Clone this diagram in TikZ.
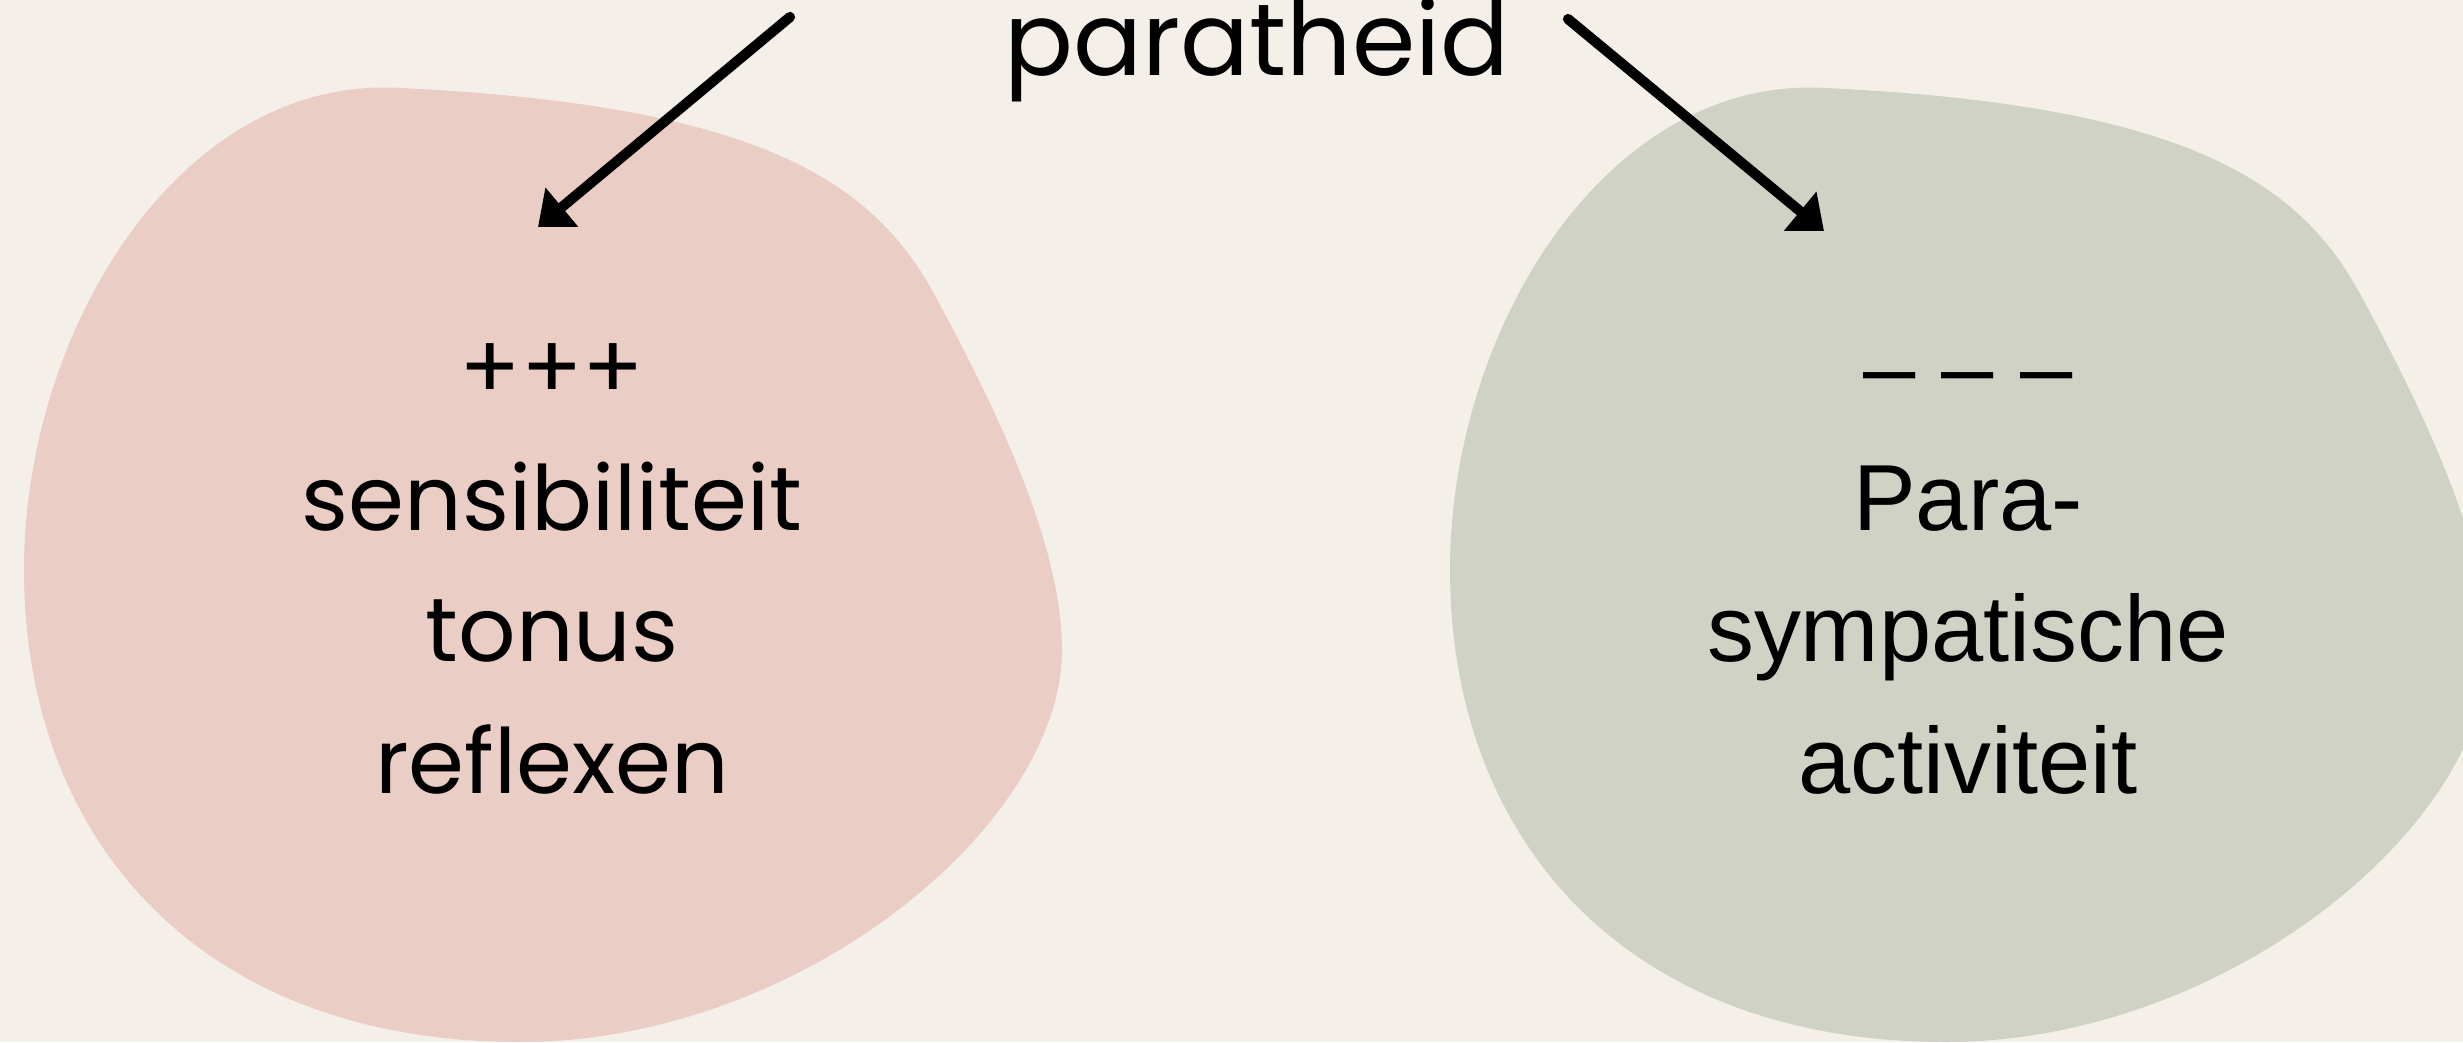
\documentclass[tikz,border=0pt]{standalone}
\usepackage{fontspec}
\usetikzlibrary{arrows.meta}
\newfontfamily\popfont{Poppins}
\newfontfamily\arialfont{Liberation Sans}
\definecolor{bgcream}{RGB}{245,239,234}
\definecolor{blobpink}{RGB}{234,205,197}
\definecolor{blobgreen}{RGB}{208,210,197}
\tikzset{
  pointer/.style={line width=2.9pt, line cap=round, -{Triangle[length=0.31cm, width=0.49cm]}},
  lefttext/.style={align=center, inner sep=0pt, font=\popfont\fontsize{25.6}{37.3}\selectfont},
  righttext/.style={align=center, inner sep=0pt, font=\arialfont\fontsize{26.7}{37.3}\selectfont}
}
\begin{document}
\begin{tikzpicture}[x=0.01cm, y=-0.01cm]
  \fill[bgcream] (0,0) rectangle (2463,1042);
  \useasboundingbox (0,0) rectangle (2463,1042);

  % Blobs
  \foreach \dx/\col in {0/blobpink, 1426/blobgreen} {
    \fill[\col, shift={(\dx,0)}] (400,88)
      .. controls (760,105) and (872,182) .. (933,292)
      .. controls (1015,442) and (1062,560) .. (1062,650)
      .. controls (1062,825) and (800,1042) .. (520,1042)
      .. controls (200,1042) and (24,840) .. (24,570)
      .. controls (24,330) and (180,75) .. (400,88) -- cycle;
  }

  % Texts
  \node[lefttext, anchor=base, font=\popfont\fontsize{29}{34}\selectfont] (top) at (1257,75) {paratheid};
  \node[lefttext, anchor=base] (plus) at (552,793)
    {+++\\sensibiliteit\\tonus\\reflexen};
  \node[righttext, anchor=base] (minus) at (1968,793)
    {– – –\\Para-\\sympatische\\activiteit};

  \coordinate (lstart) at (790,17);
  \coordinate (ltip) at (538,227);
  \coordinate (rstart) at (1568,19);
  \coordinate (rtip) at (1824,231);

  % Arrows
  \draw[pointer] (lstart) -- (ltip);
  \draw[pointer] (rstart) -- (rtip);

\end{tikzpicture}
\end{document}
